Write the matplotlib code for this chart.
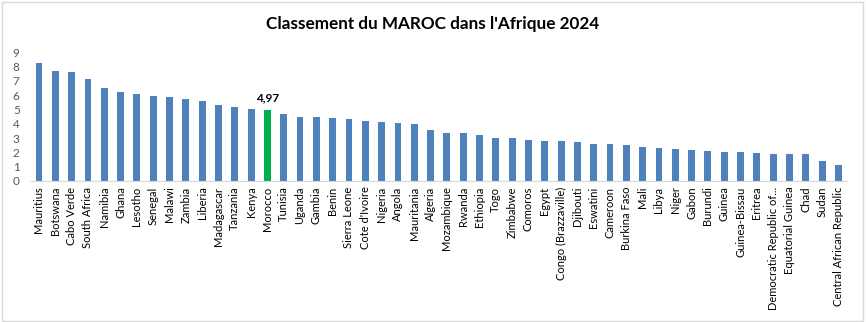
import matplotlib.pyplot as plt
from matplotlib.patches import Rectangle

countries = ["Mauritius", "Botswana", "Cabo Verde", "South Africa", "Namibia", "Ghana",
             "Lesotho", "Senegal", "Malawi", "Zambia", "Liberia", "Madagascar", "Tanzania",
             "Kenya", "Morocco", "Tunisia", "Uganda", "Gambia", "Benin", "Sierra Leone",
             "Cote d'Ivoire", "Nigeria", "Angola", "Mauritania", "Algeria", "Mozambique",
             "Rwanda", "Ethiopia", "Togo", "Zimbabwe", "Comoros", "Egypt",
             "Congo (Brazzaville)", "Djibouti", "Eswatini", "Cameroon", "Burkina Faso",
             "Mali", "Libya", "Niger", "Gabon", "Burundi", "Guinea", "Guinea-Bissau",
             "Eritrea", "Democratic Republic of...", "Equatorial Guinea", "Chad", "Sudan",
             "Central African Republic"]
scores = [8.25, 7.65, 7.6, 7.15, 6.5, 6.22, 6.08, 5.95, 5.87, 5.73, 5.59, 5.31, 5.17,
          5.03, 4.97, 4.69, 4.47, 4.47, 4.4, 4.33, 4.19, 4.12, 4.05, 3.98, 3.55, 3.34,
          3.34, 3.2, 2.98, 2.98, 2.84, 2.77, 2.77, 2.7, 2.56, 2.56, 2.49, 2.34, 2.27,
          2.2, 2.13, 2.06, 1.99, 1.99, 1.92, 1.85, 1.85, 1.85, 1.42, 1.14]
highlight = "Morocco"

plt.rcParams['font.family'] = ['Lato', 'DejaVu Sans']

fig = plt.figure(figsize=(8.66, 3.22), dpi=100)
fig.patches.append(Rectangle((0.002, 0.004), 0.995, 0.99, transform=fig.transFigure,
                             fill=False, edgecolor='#d9d9d9', linewidth=1))
ax = fig.add_axes([0.0356, 0.438, 0.942, 0.40])

colors = ['#00B050' if c == highlight else '#4F81BD' for c in countries]
x = range(len(countries))
ax.bar(x, scores, width=0.42, color=colors)

i = countries.index(highlight)
ax.text(i, scores[i] + 0.45, f"{scores[i]:.2f}".replace('.', ','), ha='center', va='bottom',
        fontsize=8.5, fontweight='bold', color='#000000')

ax.set_xlim(-0.5, len(countries) - 0.5)
ax.set_ylim(0, 9)
ax.set_yticks(range(10))
ax.set_xticks(list(x))
ax.set_xticklabels(countries, rotation=90, fontsize=8, color='#000000')
ax.tick_params(axis='y', length=0, labelsize=8.5, labelcolor='#595959', pad=8)
ax.tick_params(axis='x', length=0, pad=4)
for s in ['top', 'right', 'left']:
    ax.spines[s].set_visible(False)
ax.spines['bottom'].set_color('#d9d9d9')

fig.text(0.5, 0.927, "Classement du MAROC dans l'Afrique 2024", ha='center', va='center',
         fontsize=12.3, fontweight='bold', color='#000000')

fig.savefig('out.png', dpi=100)
